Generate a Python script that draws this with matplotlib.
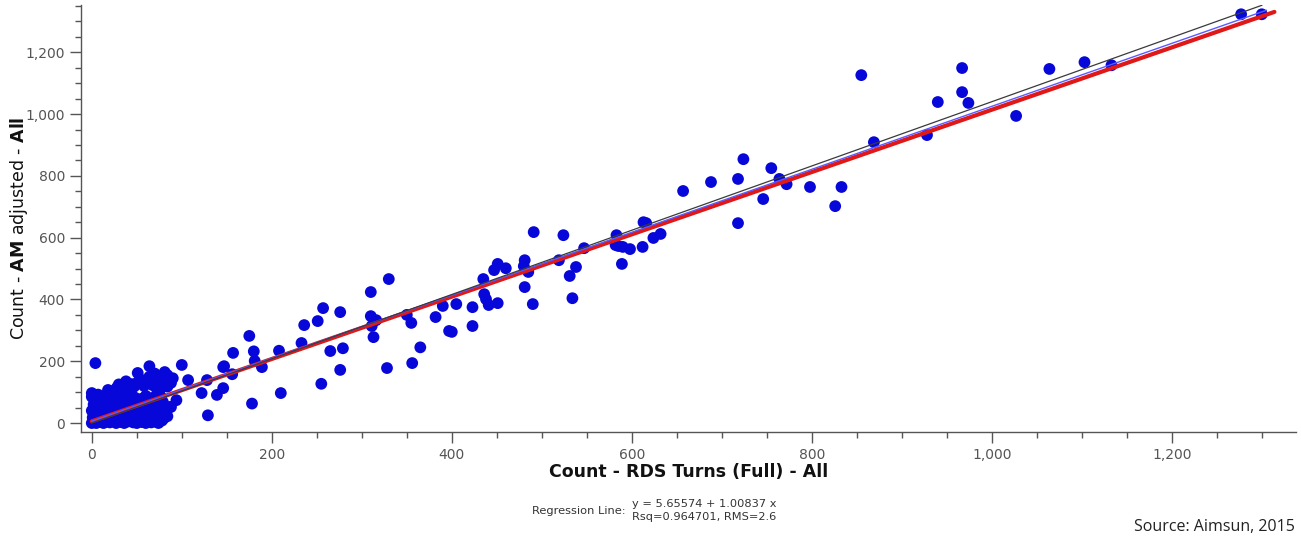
import matplotlib
matplotlib.use('Agg')
import matplotlib.pyplot as plt
from matplotlib.ticker import MultipleLocator, FuncFormatter

# Observed (RDS turns) vs modelled (AM adjusted) counts, read off the picture
# dense cluster near the origin
cluster_x = [0, 2, 5, 8, 10, 13, 15, 18, 20, 24, 27, 30, 33, 36, 40, 43, 46, 50, 53, 56, 60, 63, 66, 70, 74, 78,
             1, 4, 7, 11, 14, 17, 21, 25, 28, 32, 35, 38, 42, 45, 48, 52, 55, 58, 62, 66, 70, 75, 80, 84,
             0, 3, 6, 9, 12, 16, 19, 22, 26, 29, 33, 37, 40, 44, 47, 51, 54, 58, 61, 65, 69, 73, 77, 82, 88,
             2, 5, 8, 12, 15, 19, 23, 27, 30, 34, 38, 41, 45, 49, 53, 57, 61, 65, 70, 74, 79, 94,
             0, 3, 7, 10, 14, 18, 21, 25, 29, 33, 36, 40, 44, 48, 55, 60, 66, 72, 77, 18, 0,
             24, 28, 32, 36, 40, 44, 47, 51, 30, 38, 55, 63, 68, 74, 78, 58, 76, 84, 88,
             4, 64, 100, 51, 81, 84, 64, 70, 90, 87, 76]
cluster_y = [0, 5, 0, 3, 8, 0, 4, 10, 2, 6, 0, 8, 3, 0, 5, 10, 2, 0, 7, 3, 0, 8, 2, 5, 0, 8,
             18, 25, 15, 28, 20, 30, 16, 25, 18, 28, 15, 24, 18, 30, 20, 25, 15, 30, 20, 28, 18, 25, 15, 22,
             40, 35, 48, 38, 45, 36, 50, 42, 38, 48, 40, 50, 36, 45, 38, 50, 42, 36, 48, 40, 50, 38, 45, 40, 52,
             60, 68, 55, 65, 58, 70, 60, 66, 56, 70, 62, 56, 68, 60, 70, 58, 66, 60, 70, 62, 68, 74,
             85, 78, 92, 80, 88, 76, 90, 82, 95, 78, 88, 80, 94, 82, 78, 88, 80, 92, 84, 107, 97,
             104, 115, 108, 122, 110, 126, 118, 132, 125, 135, 140, 130, 122, 138, 126, 120, 110, 118, 130,
             194, 184, 188, 162, 165, 155, 150, 160, 145, 52, 20]

# remaining points
rds_x = [107, 128, 122, 139, 146, 129, 146, 157, 175, 180, 189, 208, 178, 210, 233, 251, 236, 257, 276, 310,
         330, 310, 316, 311, 313, 265, 279, 276, 255, 328, 356, 365, 350, 355, 382, 390, 397, 147, 156, 181,
         400, 405, 423, 423, 435, 436, 438, 441, 451, 447, 451, 460, 480, 481, 485, 481, 490, 491, 519, 524,
         538, 531, 534, 547, 583, 585, 598, 612, 589, 613, 616, 582, 590, 624, 632, 657, 688, 718, 724, 755,
         746, 764, 772, 718, 798, 833, 826, 855, 869, 928, 940, 967, 967, 974, 1027, 1064, 1103, 1133, 1277, 1300]
am_y = [139, 139, 97, 91, 113, 25, 181, 227, 282, 232, 181, 234, 63, 97, 259, 330, 317, 372, 359, 424,
        466, 346, 333, 314, 278, 233, 242, 172, 127, 178, 194, 245, 350, 324, 343, 379, 298, 184, 158, 201,
        295, 385, 375, 314, 466, 417, 401, 382, 388, 495, 515, 501, 508, 527, 489, 440, 385, 618, 527, 608,
        505, 476, 404, 566, 608, 573, 563, 570, 515, 650, 647, 576, 570, 599, 612, 751, 780, 790, 854, 825,
        725, 790, 773, 647, 764, 764, 702, 1126, 909, 932, 1039, 1149, 1071, 1036, 994, 1146, 1168, 1158, 1323, 1323]

# fitted lines: (intercept, slope, last x)
black_fit = (0.0, 1.04, 1300)
blue_fit = (6.0, 1.019, 1305)
reg_fit = (5.65574, 1.00837, 1314)

x_ticks = [0, 200, 400, 600, 800, 1000, 1200]
y_ticks = [0, 200, 400, 600, 800, 1000, 1200]


def line_pts(fit):
    a, b, xe = fit
    return [0, xe], [a, a + b * xe]


fig = plt.figure(figsize=(13.01, 5.37), dpi=100)
ax = fig.add_axes([81 / 1301, 1 - 432 / 537, (1296 - 81) / 1301, (432 - 5) / 537])

ax.scatter(cluster_x + rds_x, cluster_y + am_y, s=72, color='#0707d9', edgecolors='none', zorder=2)

rx, ry = line_pts(reg_fit)
ax.plot(rx, ry, color='#e01818', lw=3.0, solid_capstyle='round', zorder=3)
ux, uy = line_pts(blue_fit)
ax.plot(ux, uy, color='#5a5aff', lw=1.0, zorder=4)
bx, by = line_pts(black_fit)
ax.plot(bx, by, color='#3a3a3a', lw=0.9, zorder=4)

ax.set_xlim(-12, 1338)
ax.set_ylim(-29, 1353)
ax.set_xticks(x_ticks)
ax.set_yticks(y_ticks)
ax.xaxis.set_minor_locator(MultipleLocator(50))
ax.yaxis.set_minor_locator(MultipleLocator(50))
fmt = FuncFormatter(lambda v, p: f'{int(v):,}')
ax.xaxis.set_major_formatter(fmt)
ax.yaxis.set_major_formatter(fmt)

for side in ['top', 'right']:
    ax.spines[side].set_visible(False)
for side in ['left', 'bottom']:
    ax.spines[side].set_color('#555555')
    ax.spines[side].set_linewidth(1.0)

ax.tick_params(which='major', length=8, width=1, color='#555555', labelcolor='#555555', labelsize=10)
ax.tick_params(which='minor', length=4, width=1, color='#555555')

ax.set_xlabel('Count - RDS Turns (Full) - All', fontsize=12.5, fontweight='bold', color='#111111', labelpad=1)
ax.set_ylabel(r'Count - $\bf{AM}$ adjusted - $\bf{All}$', fontsize=12.5, color='#111111')
ax.yaxis.set_label_coords(-0.042, 0.478)

fig.text(626 / 1301, 1 - 511 / 537, 'Regression Line:', fontsize=8.2, color='#333333', ha='right', va='center')
fig.text(632 / 1301, 1 - 504 / 537, 'y = 5.65574 + 1.00837 x', fontsize=8.2, color='#333333', ha='left', va='center')
fig.text(632 / 1301, 1 - 517 / 537, 'Rsq=0.964701, RMS=2.6', fontsize=8.2, color='#333333', ha='left', va='center')

fig.text(1295 / 1301, 1 - 527 / 537, 'Source: Aimsun, 2015', fontsize=11.5, family='Open Sans', color='#222222',
         ha='right', va='center')

fig.savefig('out.png', dpi=100)
